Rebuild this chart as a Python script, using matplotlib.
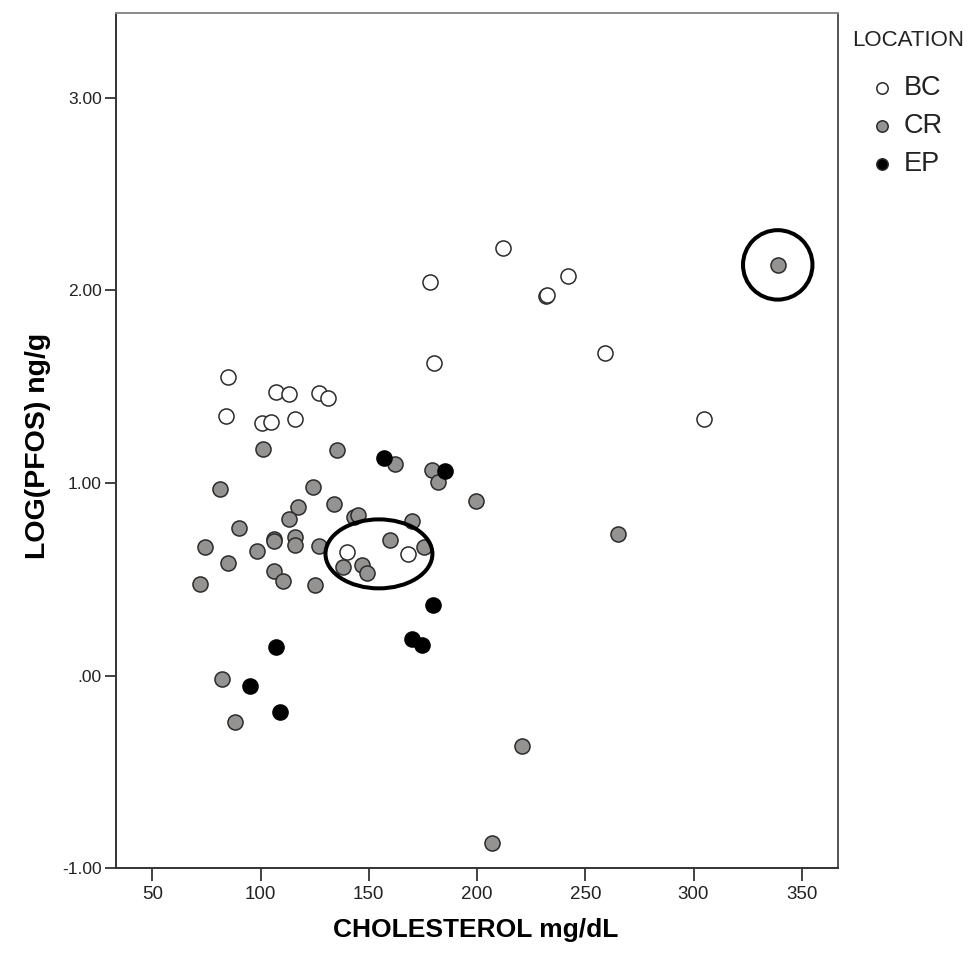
import matplotlib
matplotlib.use("Agg")
import matplotlib.pyplot as plt
from matplotlib.patches import Ellipse
from matplotlib.lines import Line2D

plt.rcParams['font.family'] = ['Liberation Sans', 'DejaVu Sans']

# values
bc_chol = [85.1, 83.9, 100.5, 104.8, 107.0, 113.1, 116.1, 127.0, 131.0, 180.1,
           139.8, 168.0, 212.1, 178.1, 242.1, 232.0, 232.3, 259.1, 305.0]
bc_logpfos = [1.549, 1.349, 1.313, 1.315, 1.472, 1.460, 1.334, 1.469, 1.443, 1.621,
              0.643, 0.631, 2.218, 2.045, 2.074, 1.971, 1.975, 1.676, 1.331]

cr_chol = [101.1, 135.2, 162.1, 179.1, 182.1, 81.3, 124.1, 117.2, 113.1, 134.1,
           143.3, 145.2, 170.1, 199.5, 90.0, 74.3, 106.2, 106.4, 116.1, 116.1,
           98.2, 126.9, 159.8, 175.5, 85.1, 106.1, 110.2, 137.9, 146.7, 149.0,
           72.0, 125.0, 82.1, 88.2, 220.8, 207.0, 265.2, 338.9]
cr_logpfos = [1.176, 1.171, 1.099, 1.067, 1.007, 0.970, 0.981, 0.877, 0.815, 0.891,
              0.825, 0.834, 0.803, 0.908, 0.765, 0.668, 0.709, 0.700, 0.718, 0.678,
              0.647, 0.675, 0.704, 0.669, 0.583, 0.545, 0.493, 0.566, 0.574, 0.531,
              0.476, 0.471, -0.019, -0.239, -0.365, -0.870, 0.734, 2.132]

ep_chol = [157.0, 185.2, 179.8, 107.1, 170.1, 174.4, 95.1, 109.1]
ep_logpfos = [1.128, 1.064, 0.367, 0.149, 0.190, 0.159, -0.054, -0.190]

locations = ['BC', 'CR', 'EP']
loc_colors = ['white', '#959292', 'black']

x_ticks = [50, 100, 150, 200, 250, 300, 350]
y_ticks = [-1.0, 0.0, 1.0, 2.0, 3.0]
y_tick_labels = ['-1.00', '.00', '1.00', '2.00', '3.00']

fig = plt.figure(figsize=(9.68, 9.55), dpi=100)
ax = fig.add_axes([0.1195, 0.0908, 0.7459, 0.8953])

edge = '#2b2b2b'
ax.scatter(bc_chol, bc_logpfos, s=118, c=loc_colors[0], edgecolors=edge, linewidths=1.1, zorder=3)
ax.scatter(cr_chol, cr_logpfos, s=118, c=loc_colors[1], edgecolors=edge, linewidths=1.1, zorder=3)
ax.scatter(ep_chol, ep_logpfos, s=118, c=loc_colors[2], edgecolors='black', linewidths=1.1, zorder=3)

# hand-drawn highlights: ring around the outlier and ellipse over the cluster
i_max = cr_chol.index(max(cr_chol))
ax.scatter([cr_chol[i_max]], [cr_logpfos[i_max]], s=2500, facecolors='none',
           edgecolors='black', linewidths=2.9, zorder=4)
ax.add_patch(Ellipse((154.7, 0.632), 49.4, 0.358, fill=False, ec='black', lw=2.9, zorder=4))

ax.set_xlim(33.1, 366.6)
ax.set_ylim(-1.0, 3.438)
ax.set_xticks(x_ticks)
ax.set_xticklabels([str(t) for t in x_ticks], fontsize=13.5, color='#222222')
ax.set_yticks(y_ticks)
ax.set_yticklabels(y_tick_labels, fontsize=12.5, color='#222222')
ax.tick_params(axis='x', length=9.5, width=1.3, color='#333333', pad=3.5)
ax.tick_params(axis='y', length=8, width=1.3, color='#333333', pad=2)

for side in ['left', 'bottom']:
    ax.spines[side].set_color('#333333')
    ax.spines[side].set_linewidth(1.4)
ax.spines['top'].set_color('#8a8a8a')
ax.spines['top'].set_linewidth(1.4)
ax.spines['right'].set_color('#555555')
ax.spines['right'].set_linewidth(1.4)

ax.set_xlabel('CHOLESTEROL mg/dL', fontsize=19, fontweight='bold', va='center', ha='center')
ax.set_ylabel('LOG(PFOS) ng/g', fontsize=20.5, fontweight='bold', va='center', ha='center')
ax.xaxis.set_label_coords(476 / 968, 1 - 930 / 955, transform=fig.transFigure)
ax.yaxis.set_label_coords(38 / 968, 1 - 446 / 955, transform=fig.transFigure)

# legend
fig.text(852 / 968, 1 - 40 / 955, 'LOCATION', fontsize=16, color='#222222', va='center', ha='left')
leg_y = [88, 126, 164]
for name, col, py in zip(locations, loc_colors, leg_y):
    fig.add_artist(Line2D([882 / 968], [1 - py / 955], marker='o', markersize=8.2,
                          markerfacecolor=col, markeredgecolor=edge, markeredgewidth=1.1,
                          linestyle='none', transform=fig.transFigure))
    fig.text(904 / 968, 1 - py / 955, name, fontsize=19.5, color='#222222', va='center', ha='left')

fig.savefig('out.png', dpi=100, facecolor='white')
